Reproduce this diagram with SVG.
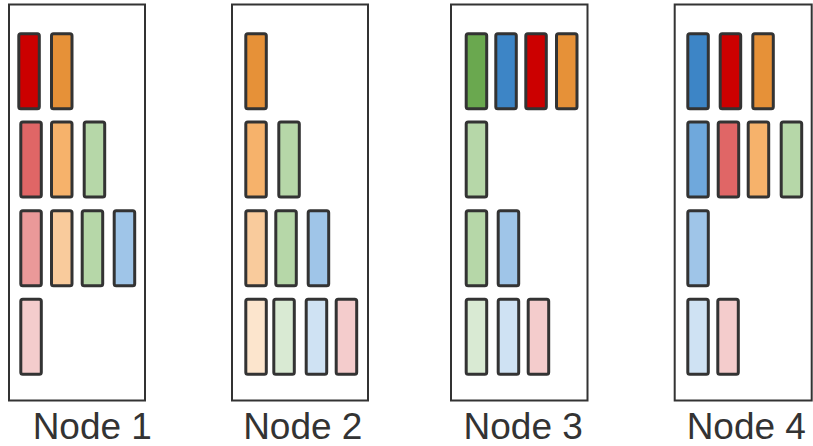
<svg xmlns="http://www.w3.org/2000/svg" width="813" height="446" viewBox="0 0 813 446">
  <style>
    .frame { fill: #ffffff; stroke: #333333; stroke-width: 2; }
    .bar { stroke: #333333; stroke-width: 3; }
    .label { font-family: "Liberation Sans", Arial, sans-serif; font-size: 37px; fill: #333333; text-anchor: middle; }
    .c-red { fill: #cc0000; } .c-org { fill: #e69138; } .c-grn { fill: #6aa84f; } .c-blu { fill: #3d85c6; }
    .c-red2 { fill: #e06666; } .c-org2 { fill: #f6b26b; } .c-grn2 { fill: #b6d7a8; } .c-blu2 { fill: #6fa8dc; }
    .c-red3 { fill: #ea9999; } .c-org3 { fill: #f9cb9c; } .c-blu3 { fill: #9fc5e8; }
    .c-red4 { fill: #f4cccc; } .c-org4 { fill: #fce5cd; } .c-grn4 { fill: #d9ead3; } .c-blu4 { fill: #cfe2f3; }
  </style>
  <defs>
    <rect id="b" class="bar" width="20.5" height="75" rx="2" ry="2"/>
  </defs>
  <rect width="813" height="446" fill="#ffffff"/>

  <g id="node1">
    <rect class="frame" x="9" y="4.5" width="136" height="396"/>
    <use href="#b" class="c-red" x="18.8" y="33.8"/>
    <use href="#b" class="c-org" x="51.5" y="33.8"/>
    <use href="#b" class="c-red2" x="20.8" y="122"/>
    <use href="#b" class="c-org2" x="51.5" y="122"/>
    <use href="#b" class="c-grn2" x="84.2" y="122"/>
    <use href="#b" class="c-red3" x="20.8" y="210.7"/>
    <use href="#b" class="c-org3" x="51.5" y="210.7"/>
    <use href="#b" class="c-grn2" x="82.2" y="210.7"/>
    <use href="#b" class="c-blu3" x="114.2" y="210.7"/>
    <use href="#b" class="c-red4" x="20.8" y="299.3"/>
    <text class="label" x="92.3" y="439">Node 1</text>
  </g>

  <g id="node2">
    <rect class="frame" x="232" y="4.5" width="136" height="396"/>
    <use href="#b" class="c-org" x="245.8" y="33.8"/>
    <use href="#b" class="c-org2" x="245.8" y="122"/>
    <use href="#b" class="c-grn2" x="278.8" y="122"/>
    <use href="#b" class="c-org3" x="245.8" y="210.7"/>
    <use href="#b" class="c-grn2" x="275.8" y="210.7"/>
    <use href="#b" class="c-blu3" x="308.2" y="210.7"/>
    <use href="#b" class="c-org4" x="245.8" y="299.3"/>
    <use href="#b" class="c-grn4" x="273.8" y="299.3"/>
    <use href="#b" class="c-blu4" x="306.2" y="299.3"/>
    <use href="#b" class="c-red4" x="336.2" y="299.3"/>
    <text class="label" x="302.8" y="439">Node 2</text>
  </g>

  <g id="node3">
    <rect class="frame" x="451" y="4.5" width="136.5" height="396"/>
    <use href="#b" class="c-grn" x="466.2" y="33.8"/>
    <use href="#b" class="c-blu" x="495.8" y="33.8"/>
    <use href="#b" class="c-red" x="525.8" y="33.8"/>
    <use href="#b" class="c-org" x="556.5" y="33.8"/>
    <use href="#b" class="c-grn2" x="466.2" y="122"/>
    <use href="#b" class="c-grn2" x="466.2" y="210.7"/>
    <use href="#b" class="c-blu3" x="498.2" y="210.7"/>
    <use href="#b" class="c-grn4" x="466.2" y="299.3"/>
    <use href="#b" class="c-blu4" x="498.2" y="299.3"/>
    <use href="#b" class="c-red4" x="528.2" y="299.3"/>
    <text class="label" x="523.2" y="439">Node 3</text>
  </g>

  <g id="node4">
    <rect class="frame" x="674.7" y="4.5" width="137" height="396"/>
    <use href="#b" class="c-blu" x="687.8" y="33.8"/>
    <use href="#b" class="c-red" x="720.2" y="33.8"/>
    <use href="#b" class="c-org" x="752.8" y="33.8"/>
    <use href="#b" class="c-blu2" x="687.8" y="122"/>
    <use href="#b" class="c-red2" x="718.2" y="122"/>
    <use href="#b" class="c-org2" x="748.2" y="122"/>
    <use href="#b" class="c-grn2" x="781.2" y="122"/>
    <use href="#b" class="c-blu3" x="687.8" y="210.7"/>
    <use href="#b" class="c-blu4" x="687.8" y="299.3"/>
    <use href="#b" class="c-red4" x="717.8" y="299.3"/>
    <text class="label" x="746.3" y="439">Node 4</text>
  </g>

  <g id="connectors"/>
</svg>
